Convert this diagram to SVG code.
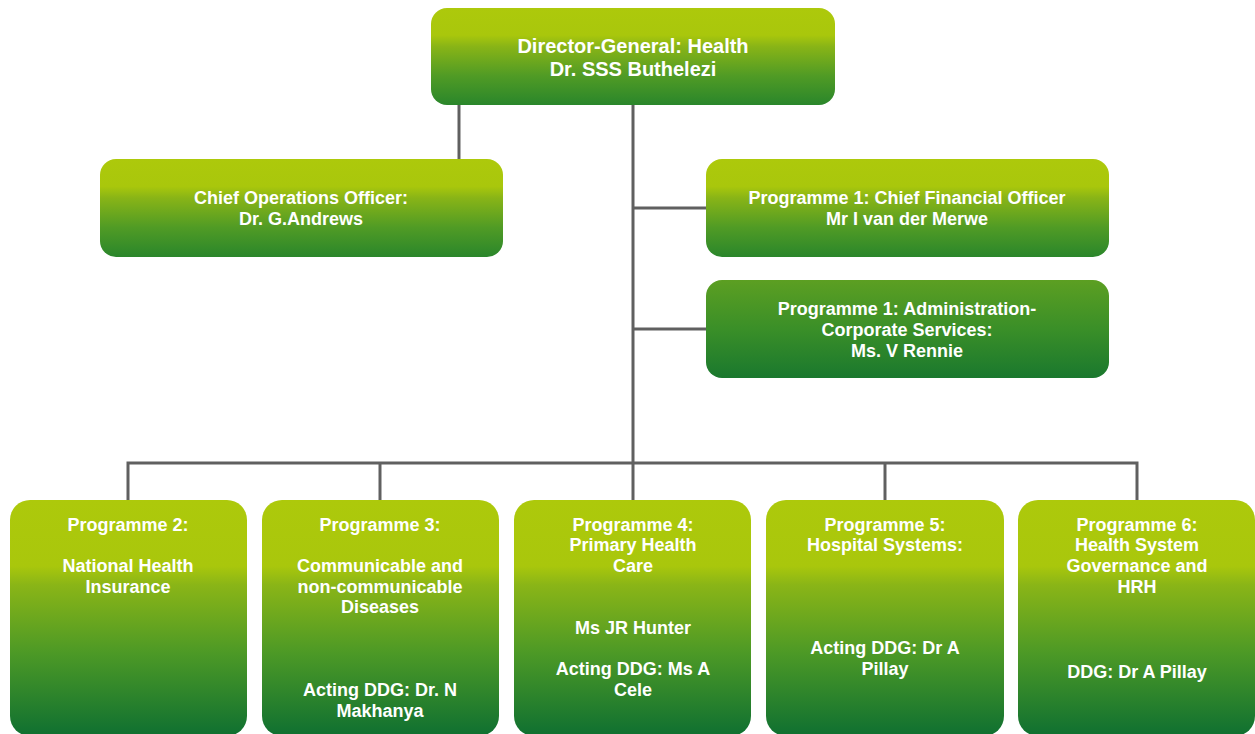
<svg xmlns="http://www.w3.org/2000/svg" width="1255" height="734" viewBox="0 0 1255 734">
  <defs>
    <linearGradient id="gTop" x1="0" y1="0" x2="0" y2="1">
      <stop offset="0" stop-color="#adc90b"/>
      <stop offset="0.28" stop-color="#a9c70c"/>
      <stop offset="0.4" stop-color="#88b417"/>
      <stop offset="0.7" stop-color="#509b25"/>
      <stop offset="1" stop-color="#2a862b"/>
    </linearGradient>
    <linearGradient id="gAdmin" x1="0" y1="0" x2="0" y2="1">
      <stop offset="0" stop-color="#5c9f22"/>
      <stop offset="0.5" stop-color="#3a8f28"/>
      <stop offset="1" stop-color="#1a782e"/>
    </linearGradient>
    <linearGradient id="gBottom" x1="0" y1="0" x2="0" y2="1">
      <stop offset="0" stop-color="#adc90b"/>
      <stop offset="0.28" stop-color="#a9c70c"/>
      <stop offset="0.36" stop-color="#8ab517"/>
      <stop offset="0.65" stop-color="#4c9926"/>
      <stop offset="1" stop-color="#0f7031"/>
    </linearGradient>
  </defs>
  <style>
    .box { stroke: none; }
    .lbl { font-family: "Liberation Sans", Arial, sans-serif; font-weight: bold; font-size: 18px; fill: #ffffff; text-anchor: middle; }
    .big { font-size: 20px; }
    .conn { stroke: #606060; stroke-width: 3; fill: none; }
  </style>
  <rect width="1255" height="734" fill="#ffffff"/>

  <!-- connectors -->
  <g id="connectors">
    <line class="conn" x1="633" y1="100" x2="633" y2="502"/>
    <line class="conn" x1="459" y1="100" x2="459" y2="161"/>
    <line class="conn" x1="633" y1="208" x2="708" y2="208"/>
    <line class="conn" x1="633" y1="329" x2="708" y2="329"/>
    <polyline class="conn" points="128,502 128,463 1137,463 1137,502"/>
    <line class="conn" x1="380" y1="463" x2="380" y2="502"/>
    <line class="conn" x1="885" y1="463" x2="885" y2="502"/>
  </g>

  <g id="director-general">
    <rect class="box" x="431" y="8" width="404" height="97" rx="16" fill="url(#gTop)"/>
    <text class="lbl big" x="633" y="53">Director-General: Health</text>
    <text class="lbl big" x="633" y="76">Dr. SSS Buthelezi</text>
  </g>

  <g id="coo">
    <rect class="box" x="100" y="159" width="403" height="98" rx="16" fill="url(#gTop)"/>
    <text class="lbl" x="301" y="204">Chief Operations Officer:</text>
    <text class="lbl" x="301" y="225">Dr. G.Andrews</text>
  </g>

  <g id="cfo">
    <rect class="box" x="706" y="159" width="403" height="98" rx="16" fill="url(#gTop)"/>
    <text class="lbl" x="907" y="204">Programme 1: Chief Financial Officer</text>
    <text class="lbl" x="907" y="225">Mr I van der Merwe</text>
  </g>

  <g id="admin">
    <rect class="box" x="706" y="280" width="403" height="98" rx="16" fill="url(#gAdmin)"/>
    <text class="lbl" x="907" y="315">Programme 1: Administration-</text>
    <text class="lbl" x="907" y="336">Corporate Services:</text>
    <text class="lbl" x="907" y="357">Ms. V Rennie</text>
  </g>

  <g id="programme-2">
    <rect class="box" x="10" y="500" width="237" height="236" rx="20" fill="url(#gBottom)"/>
    <text class="lbl" x="128" y="531">Programme 2:</text>
    <text class="lbl" x="128" y="572">National Health</text>
    <text class="lbl" x="128" y="593">Insurance</text>
  </g>

  <g id="programme-3">
    <rect class="box" x="262" y="500" width="237" height="236" rx="20" fill="url(#gBottom)"/>
    <text class="lbl" x="380" y="531">Programme 3:</text>
    <text class="lbl" x="380" y="572">Communicable and</text>
    <text class="lbl" x="380" y="593">non-communicable</text>
    <text class="lbl" x="380" y="613">Diseases</text>
    <text class="lbl" x="380" y="696">Acting DDG: Dr. N</text>
    <text class="lbl" x="380" y="717">Makhanya</text>
  </g>

  <g id="programme-4">
    <rect class="box" x="514" y="500" width="237" height="236" rx="20" fill="url(#gBottom)"/>
    <text class="lbl" x="633" y="531">Programme 4:</text>
    <text class="lbl" x="633" y="551">Primary Health</text>
    <text class="lbl" x="633" y="572">Care</text>
    <text class="lbl" x="633" y="634">Ms JR Hunter</text>
    <text class="lbl" x="633" y="675">Acting DDG: Ms A</text>
    <text class="lbl" x="633" y="696">Cele</text>
  </g>

  <g id="programme-5">
    <rect class="box" x="766" y="500" width="238" height="236" rx="20" fill="url(#gBottom)"/>
    <text class="lbl" x="885" y="531">Programme 5:</text>
    <text class="lbl" x="885" y="551">Hospital Systems:</text>
    <text class="lbl" x="885" y="654">Acting DDG: Dr A</text>
    <text class="lbl" x="885" y="675">Pillay</text>
  </g>

  <g id="programme-6">
    <rect class="box" x="1018" y="500" width="237" height="236" rx="20" fill="url(#gBottom)"/>
    <text class="lbl" x="1137" y="531">Programme 6:</text>
    <text class="lbl" x="1137" y="551">Health System</text>
    <text class="lbl" x="1137" y="572">Governance and</text>
    <text class="lbl" x="1137" y="593">HRH</text>
    <text class="lbl" x="1137" y="678">DDG: Dr A Pillay</text>
  </g>
</svg>
